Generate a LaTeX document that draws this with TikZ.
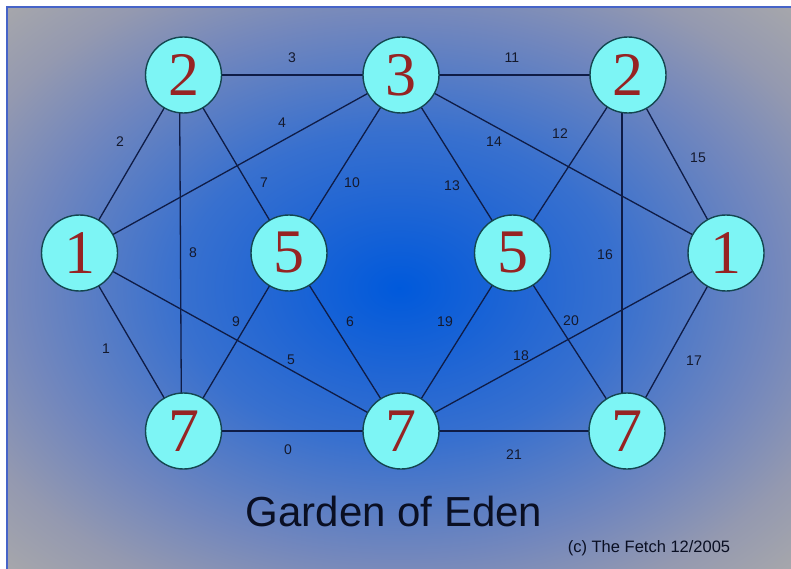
\documentclass[tikz,border=0pt]{standalone}
\usepackage{fontspec}
\setmainfont{Liberation Serif}
\newfontfamily\lsans{Liberation Sans}
\definecolor{vtxfill}{RGB}{125,245,245}
\definecolor{vtxline}{RGB}{20,70,80}
\definecolor{numred}{RGB}{150,35,35}
\definecolor{edgec}{RGB}{15,28,70}
\definecolor{labc}{RGB}{20,25,45}
\definecolor{titlec}{RGB}{10,15,35}
\definecolor{framec}{RGB}{70,100,200}
\pgfdeclareradialshading{edenbg}{\pgfpoint{0bp}{0bp}}{%
  rgb(0bp)=(0.0,0.35,0.86);
  rgb(8bp)=(0.13,0.40,0.83);
  rgb(14bp)=(0.22,0.44,0.81);
  rgb(24bp)=(0.45,0.53,0.74);
  rgb(30bp)=(0.58,0.60,0.69);
  rgb(36bp)=(0.66,0.66,0.67);
  rgb(50bp)=(0.67,0.67,0.67)}
\pgfdeclarelayer{back}
\pgfdeclarelayer{edges}
\pgfsetlayers{back,edges,main}
\tikzset{
  vtx/.style={circle, draw=vtxline, line width=1.4pt, fill=vtxfill,
    minimum size=76pt, inner sep=0pt, text=numred,
    font=\fontsize{62}{62}\selectfont},
  elab/.style={inner sep=0pt, text=labc, font=\lsans\fontsize{14}{14}\selectfont},
  edge/.style={draw=edgec, line width=1.3pt}
}
\begin{document}
\begin{tikzpicture}[x=1pt,y=-1pt]
\useasboundingbox (0,0) rectangle (791,569);
\begin{pgfonlayer}{back}
  \fill[white] (0,0) rectangle (791,569);
  \shade[shading=edenbg] (7,7) rectangle (791,569);
  \draw[framec, line width=1.2pt] (7,569) -- (7,7) -- (791,7);
\end{pgfonlayer}

% vertices
\node[vtx] (T2L) at (183.5,75) {2};
\node[vtx] (T3)  at (401,75)   {3};
\node[vtx] (T2R) at (628,75)   {2};
\node[vtx] (L1)  at (79.5,253) {1};
\node[vtx] (L5)  at (289,253)  {5};
\node[vtx] (R5)  at (512.5,253){5};
\node[vtx] (R1)  at (726,253)  {1};
\node[vtx] (B7L) at (183.5,431){7};
\node[vtx] (B7M) at (401,431)  {7};
\node[vtx] (B7R) at (627,431)  {7};

% edges
\begin{pgfonlayer}{edges}
\draw[edge] (B7L.center) -- (B7M.center);
\draw[edge] (L1.center) -- (B7L.center);
\draw[edge] (T2L.center) -- (L1.center);
\draw[edge] (T2L.center) -- (T3.center);
\draw[edge] (L1.center) -- (T3.center);
\draw[edge] (L1.center) -- (B7M.center);
\draw[edge] (L5.center) -- (B7M.center);
\draw[edge] (T2L.center) -- (L5.center);
\draw[edge] ([xshift=-4pt]T2L.center) -- ([xshift=-2pt]B7L.center);
\draw[edge] (L5.center) -- (B7L.center);
\draw[edge] (T3.center) -- (L5.center);
\draw[edge] (T3.center) -- (T2R.center);
\draw[edge] (T2R.center) -- (R5.center);
\draw[edge] (T3.center) -- (R5.center);
\draw[edge] (T3.center) -- (R1.center);
\draw[edge] (T2R.center) -- (R1.center);
\draw[edge] ([xshift=-6pt]T2R.center) -- ([xshift=-5pt]B7R.center);
\draw[edge] (R1.center) -- (B7R.center);
\draw[edge] (R1.center) -- (B7M.center);
\draw[edge] (R5.center) -- (B7M.center);
\draw[edge] (R5.center) -- (B7R.center);
\draw[edge] (B7M.center) -- (B7R.center);
\end{pgfonlayer}

% edge labels
\node[elab] (l0)  at (288,450) {0};
\node[elab] (l1)  at (106,349) {1};
\node[elab] (l2)  at (120,142) {2};
\node[elab] (l3)  at (292,58)  {3};
\node[elab] (l4)  at (282,123) {4};
\node[elab] (l5)  at (291,360) {5};
\node[elab] (l6)  at (350,322) {6};
\node[elab] (l7)  at (264,183) {7};
\node[elab] (l8)  at (193,253) {8};
\node[elab] (l9)  at (236,322) {9};
\node[elab] (l10) at (352,183) {10};
\node[elab] (l11) at (512,58)  {11};
\node[elab] (l12) at (560,134) {12};
\node[elab] (l13) at (452,186) {13};
\node[elab] (l14) at (494,142) {14};
\node[elab] (l15) at (698,158) {15};
\node[elab] (l16) at (605,255) {16};
\node[elab] (l17) at (694,361) {17};
\node[elab] (l18) at (521,356) {18};
\node[elab] (l19) at (445,322) {19};
\node[elab] (l20) at (571,321) {20};
\node[elab] (l21) at (514,455) {21};

% titles
\node[anchor=base, inner sep=0pt, text=titlec, font=\lsans\fontsize{42}{42}\selectfont] (title) at (394,526.7) {Garden of Eden};
\node[anchor=base, inner sep=0pt, text=titlec, font=\lsans\fontsize{16.5}{17}\selectfont] (copy) at (649,552.7) {(c) The Fetch 12/2005};
\end{tikzpicture}
\end{document}
